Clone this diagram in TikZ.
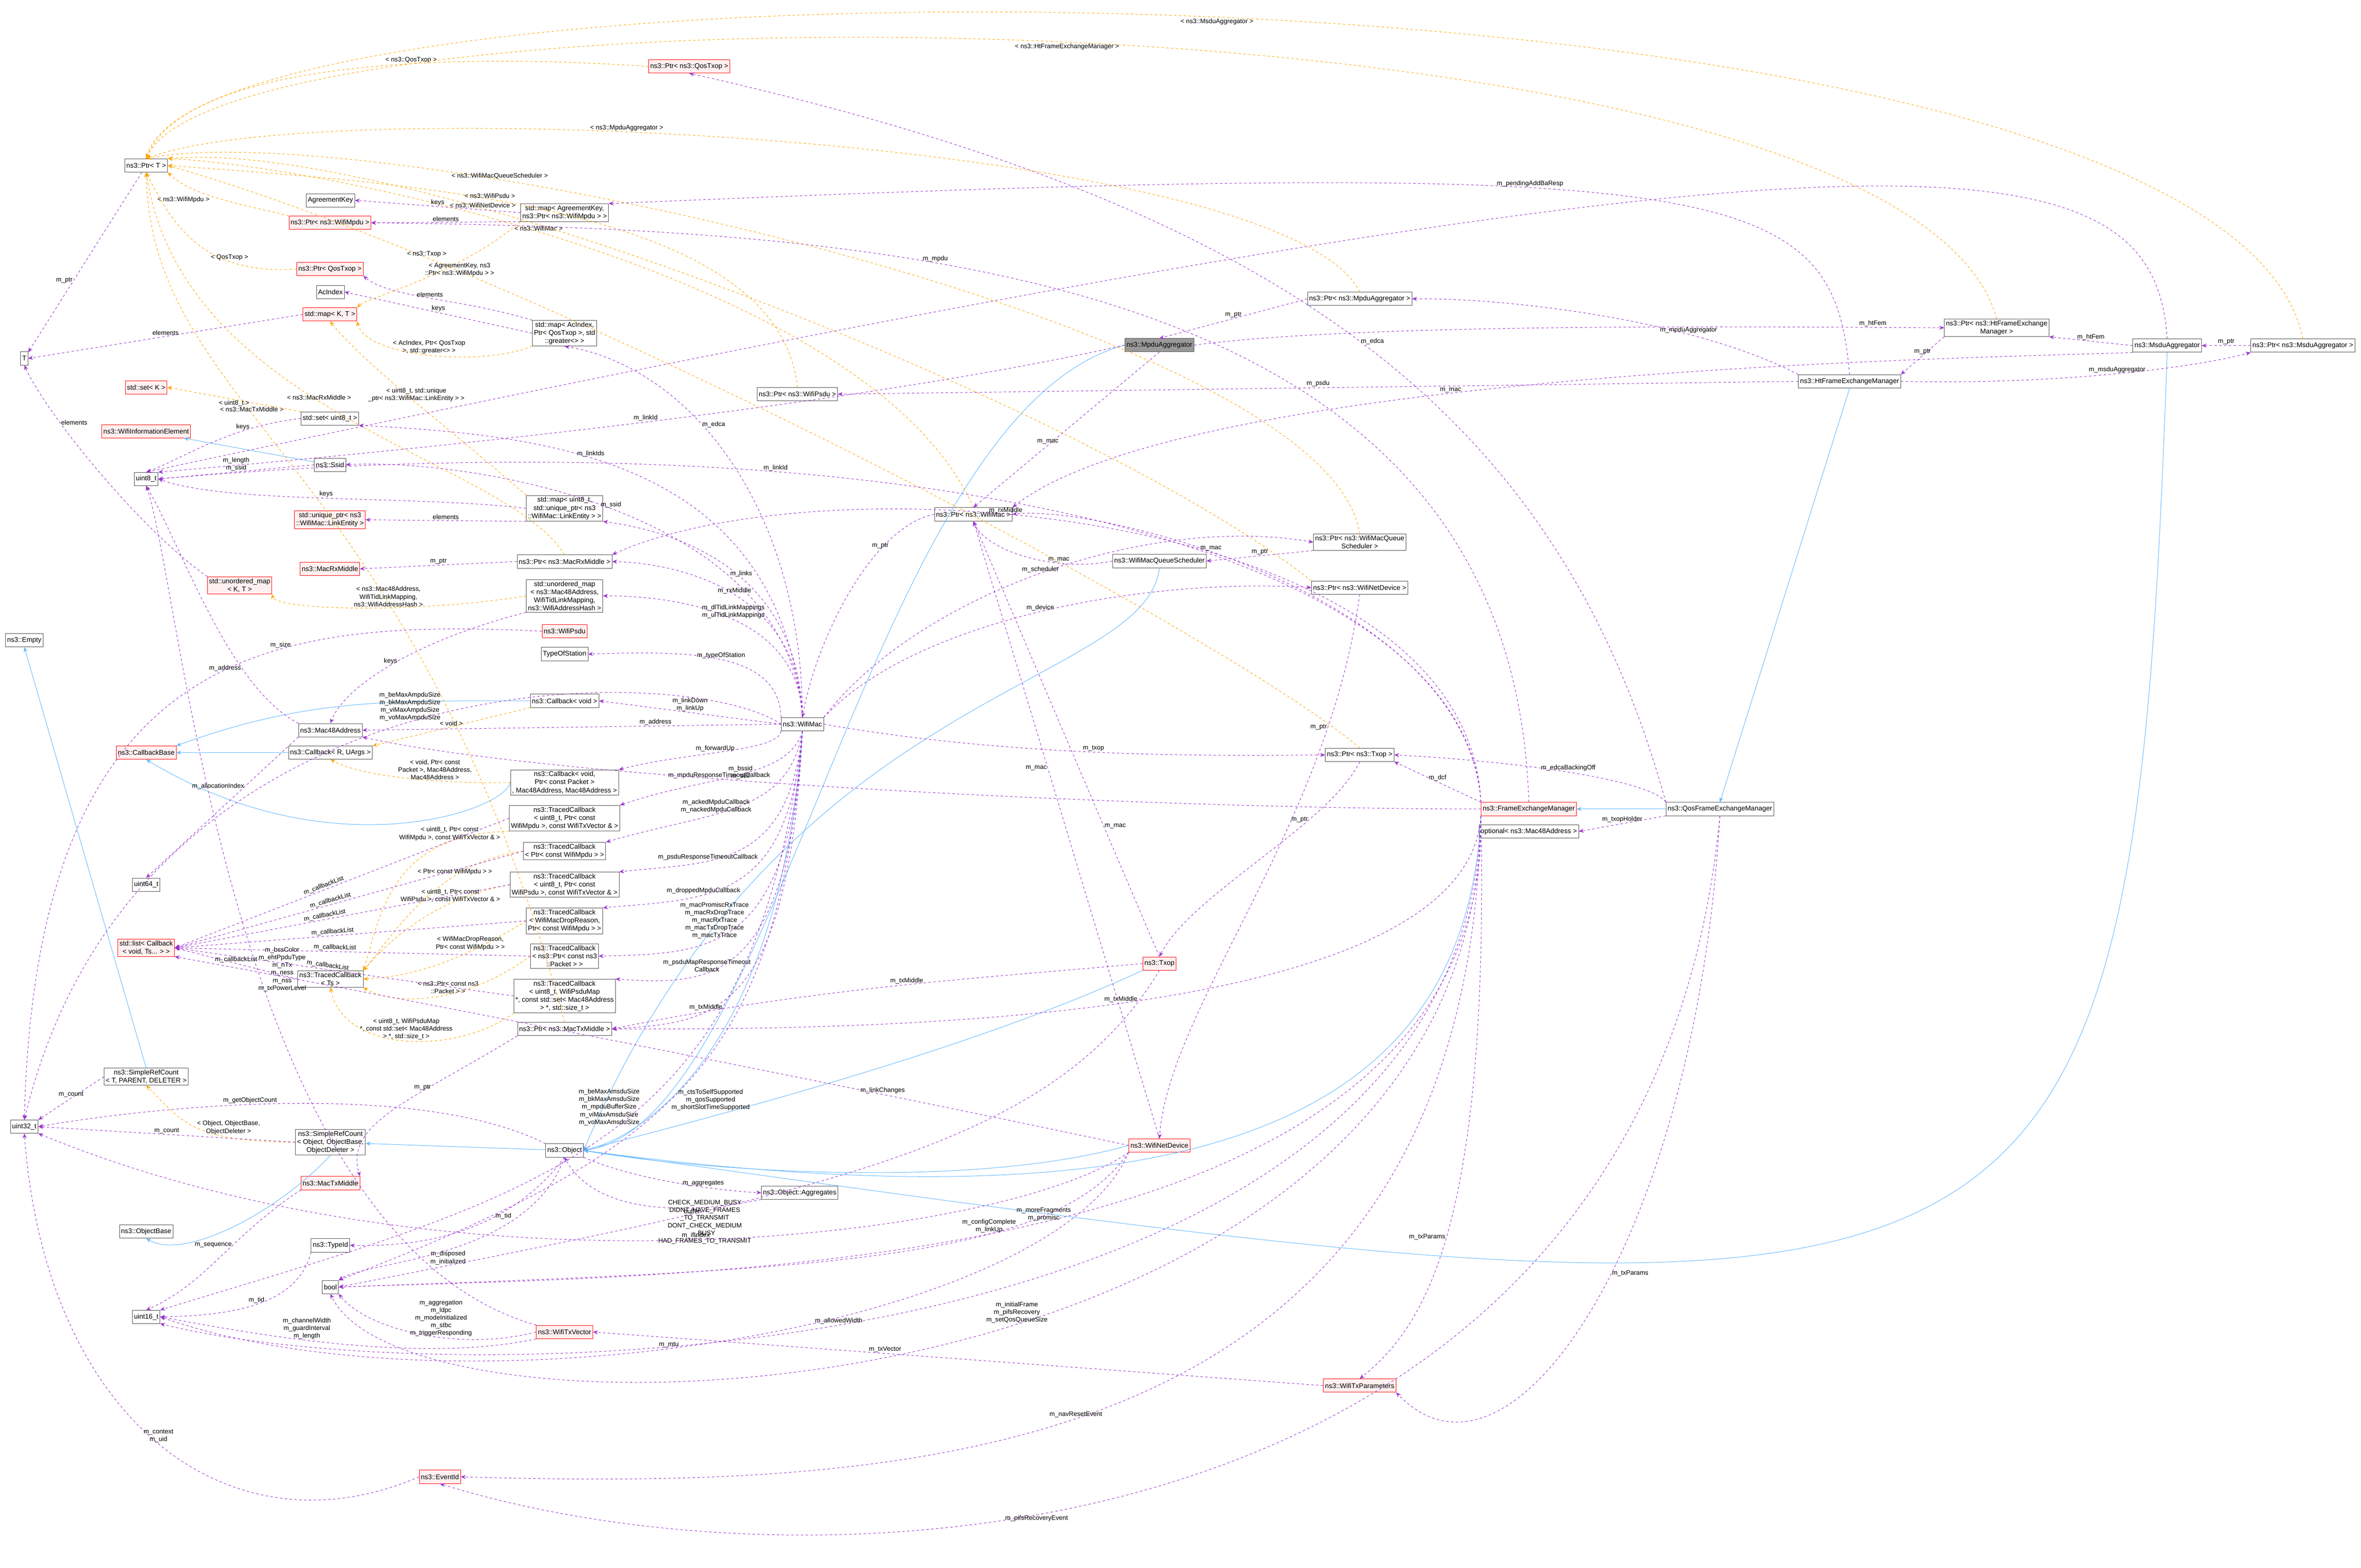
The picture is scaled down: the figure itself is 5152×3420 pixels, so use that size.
\documentclass[tikz,border=0pt]{standalone}
\usepackage{fontspec}
\setmainfont{Liberation Sans}
\usetikzlibrary{arrows.meta}
\definecolor{mp}{HTML}{9A32CD}
\definecolor{tor}{HTML}{FFA500}
\definecolor{ib}{HTML}{63B8FF}
\begin{document}
\begin{tikzpicture}[x=0.02cm,y=-0.02cm,
 font=\fontsize{8.5}{10}\selectfont,
 box/.style={draw=black!70,fill=white,inner sep=2pt,minimum height=0.58cm,align=center,line width=0.5pt},
 rbox/.style={box,draw=red,fill=red!6},
 gbox/.style={box,fill=black!40},
 mem/.style={draw=mp,dashed,line width=0.6pt,-{Stealth[length=6pt,width=5pt]}},
 tmpl/.style={draw=tor,dashed,line width=0.6pt,-{Stealth[length=6pt,width=5pt]}},
 inh/.style={draw=ib,line width=0.6pt,-{Stealth[length=6pt,width=5pt]}},
 lab/.style={align=center,inner sep=1pt,font=\fontsize{8}{9.5}\selectfont}]
\useasboundingbox (0,0) rectangle (5152,3420);
% ---------- nodes ----------
\node[box] (ptrT) at (319,361) {ns3::Ptr< T >};
\node[box] (T) at (53,782) {T};
\node[rbox] (pQosTxopNs) at (1504,145) {ns3::Ptr< ns3::QosTxop >};
\node[box] (agKey) at (721,437) {AgreementKey};
\node[rbox] (pMpdu) at (720,486) {ns3::Ptr< ns3::WifiMpdu >};
\node[box] (mapAg) at (1232,464) {std::map< AgreementKey,\\ ns3::Ptr< ns3::WifiMpdu > >};
\node[rbox] (pQosTxop) at (720,587) {ns3::Ptr< QosTxop >};
\node[box] (acIdx) at (721,637) {AcIndex};
\node[rbox] (mapKT) at (720,686) {std::map< K, T >};
\node[box] (mapAc) at (1232,727) {std::map< AcIndex,\\ Ptr< QosTxop >, std\\ ::greater<> >};
\node[rbox] (setK) at (319,845) {std::set< K >};
\node[box] (setU8) at (720,913) {std::set< uint8\_t >};
\node[rbox] (wie) at (319,941) {ns3::WifiInformationElement};
\node[box] (ssid) at (720,1014) {ns3::Ssid};
\node[box] (u8) at (319,1045) {uint8\_t};
\node[rbox] (uniq) at (720,1134) {std::unique\_ptr< ns3\\ ::WifiMac::LinkEntity >};
\node[box] (mapLink) at (1232,1109) {std::map< uint8\_t,\\ std::unique\_ptr< ns3\\ ::WifiMac::LinkEntity > >};
\node[rbox] (rxm) at (720,1241) {ns3::MacRxMiddle};
\node[box] (pRxm) at (1232,1225) {ns3::Ptr< ns3::MacRxMiddle >};
\node[rbox] (umapKT) at (523,1277) {std::unordered\_map\\ < K, T >};
\node[box] (umapMac) at (1232,1300) {std::unordered\_map\\ < ns3::Mac48Address,\\ WifiTidLinkMapping,\\ ns3::WifiAddressHash >};
\node[box] (pPsdu) at (1740,860) {ns3::Ptr< ns3::WifiPsdu >};
\node[box] (empty) at (53,1397) {ns3::Empty};
\node[rbox] (psdu) at (1232,1377) {ns3::WifiPsdu};
\node[box] (tos) at (1232,1427) {TypeOfStation};
\node[box] (cbVoid) at (1232,1529) {ns3::Callback< void >};
\node[box] (mac48) at (721,1593) {ns3::Mac48Address};
\node[box] (wmac) at (1751,1580) {ns3::WifiMac};
\node[rbox] (cbBase) at (319,1642) {ns3::CallbackBase};
\node[box] (cbR) at (721,1642) {ns3::Callback< R, UArgs >};
\node[box] (cbFwd) at (1232,1707) {ns3::Callback< void,\\ Ptr< const Packet >\\ , Mac48Address, Mac48Address >};
\node[box] (tc1) at (1232,1785) {ns3::TracedCallback\\ < uint8\_t, Ptr< const\\ WifiMpdu >, const WifiTxVector \& >};
\node[box] (tc2) at (1232,1857) {ns3::TracedCallback\\ < Ptr< const WifiMpdu > >};
\node[box] (u64) at (319,1930) {uint64\_t};
\node[box] (tc3) at (1232,1930) {ns3::TracedCallback\\ < uint8\_t, Ptr< const\\ WifiPsdu >, const WifiTxVector \& >};
\node[box] (tc4) at (1232,2009) {ns3::TracedCallback\\ < WifiMacDropReason,\\ Ptr< const WifiMpdu > >};
\node[rbox] (stdlist) at (319,2068) {std::list< Callback\\ < void, Ts... > >};
\node[box] (tc5) at (1232,2086) {ns3::TracedCallback\\ < ns3::Ptr< const ns3\\ ::Packet > >};
\node[box] (tcTs) at (721,2136) {ns3::TracedCallback\\ < Ts >};
\node[box] (tc6) at (1232,2173) {ns3::TracedCallback\\ < uint8\_t, WifiPsduMap\\ *, const std::set< Mac48Address\\ > *, std::size\_t >};
\node[box] (pTxm) at (1232,2245) {ns3::Ptr< ns3::MacTxMiddle >};
\node[box] (src1) at (319,2349) {ns3::SimpleRefCount\\ < T, PARENT, DELETER >};
\node[box] (u32) at (53,2458) {uint32\_t};
\node[box] (src2) at (721,2492) {ns3::SimpleRefCount\\ < Object, ObjectBase,\\ ObjectDeleter >};
\node[box] (obj) at (1232,2510) {ns3::Object};
\node[rbox] (txm) at (721,2581) {ns3::MacTxMiddle};
\node[box] (objBase) at (319,2687) {ns3::ObjectBase};
\node[box] (agg) at (1745,2602) {ns3::Object::Aggregates};
\node[box] (typeId) at (721,2717) {ns3::TypeId};
\node[box] (bool) at (721,2808) {bool};
\node[box] (u16) at (319,2873) {uint16\_t};
\node[rbox] (txvec) at (1232,2906) {ns3::WifiTxVector};
\node[rbox] (evid) at (960,3222) {ns3::EventId};
\node[box] (pMpduAgg) at (2967,652) {ns3::Ptr< ns3::MpduAggregator >};
\node[gbox] (mpduAgg) at (2530,753) {ns3::MpduAggregator};
\node[box] (pWMac) at (2124,1122) {ns3::Ptr< ns3::WifiMac >};
\node[box] (pSched) at (2967,1183) {ns3::Ptr< ns3::WifiMacQueue\\ Scheduler >};
\node[box] (sched) at (2530,1224) {ns3::WifiMacQueueScheduler};
\node[box] (pDev) at (2967,1282) {ns3::Ptr< ns3::WifiNetDevice >};
\node[box] (pHtFem) at (4357,715) {ns3::Ptr< ns3::HtFrameExchange\\ Manager >};
\node[box] (msduAgg) at (4729,754) {ns3::MsduAggregator};
\node[box] (pMsdu) at (5025,754) {ns3::Ptr< ns3::MsduAggregator >};
\node[box] (htFem) at (4036,832) {ns3::HtFrameExchangeManager};
\node[box] (pTxop) at (2967,1647) {ns3::Ptr< ns3::Txop >};
\node[rbox] (fem) at (3336,1765) {ns3::FrameExchangeManager};
\node[box] (opt) at (3336,1814) {optional< ns3::Mac48Address >};
\node[rbox] (txop) at (2530,2102) {ns3::Txop};
\node[rbox] (dev) at (2530,2499) {ns3::WifiNetDevice};
\node[box] (qosFem) at (3753,1765) {ns3::QosFrameExchangeManager};
\node[rbox] (txParams) at (2967,3023) {ns3::WifiTxParameters};
% ---------- inheritance ----------
\draw[inh] (ssid) -- (wie);
\draw[inh] (cbVoid.west) to[out=180,in=20] (cbBase.north east);
\draw[inh] (cbR) -- (cbBase);
\draw[inh] (cbFwd.west) .. controls (1100,1770) and (720,1900) .. (cbBase.south);
\draw[inh] (src1.north) -- (empty.south);
\draw[inh] (src2.south) .. controls (600,2650) and (400,2750) .. (objBase.south);
\draw[inh] (obj) -- (src2);
\draw[inh] (mpduAgg.west) .. controls (1900,900) and (1700,2450) .. (obj.east);
\draw[inh] (wmac.south) .. controls (1700,2300) and (1400,2480) .. (obj.east);
\draw[inh] (sched.south) .. controls (2500,1500) and (1700,1500) .. (obj.east);
\draw[inh] (txop.south west) .. controls (2100,2300) and (1500,2450) .. (obj.east);
\draw[inh] (dev.west) .. controls (2100,2600) and (1500,2550) .. (obj.east);
\draw[inh] (fem.south west) .. controls (3200,2400) and (2700,2700) .. (obj.east);
\draw[inh] (msduAgg.south) .. controls (4650,3000) and (4500,2960) .. (obj.east);
\draw[inh] (htFem.south) -- (qosFem.north);
\draw[inh] (qosFem.west) -- (fem.east);
% ---------- template instances ----------
\draw[tmpl] (pQosTxopNs.west) .. controls (900,110) and (400,150) .. node[lab,pos=0.35,above]{< ns3::QosTxop >} (ptrT.north);
\draw[tmpl] (pMpdu.north west) .. controls (550,450) and (420,430) .. node[lab,pos=0.6,below left]{< ns3::WifiMpdu >} (ptrT.south east);
\draw[tmpl] (pQosTxop.west) .. controls (450,600) and (380,500) .. node[lab,pos=0.3,above]{< QosTxop >} (ptrT.south);
\draw[tmpl] (pRxm.north) .. controls (1100,1000) and (400,900) .. node[lab,pos=0.55,above]{< ns3::MacRxMiddle >} (ptrT.south);
\draw[tmpl] (pTxm.north) .. controls (900,1000) and (330,900) .. node[lab,pos=0.6,above]{< ns3::MacTxMiddle >} (ptrT.south);
\draw[tmpl] (pPsdu.north) .. controls (1700,450) and (900,400) .. node[lab,pos=0.6,above]{< ns3::WifiPsdu >} (ptrT.east);
\draw[tmpl] (pWMac.north) .. controls (1900,600) and (700,360) .. node[lab,pos=0.55,above]{< ns3::WifiMac >} (ptrT.north east);
\draw[tmpl] (pMpduAgg.north) .. controls (2800,300) and (700,200) .. node[lab,pos=0.6,above]{< ns3::MpduAggregator >} (ptrT.north);
\draw[tmpl] (pSched.north) .. controls (2900,700) and (800,250) .. node[lab,pos=0.7,above]{< ns3::WifiMacQueueScheduler >} (ptrT.north);
\draw[tmpl] (pDev.north west) .. controls (2400,900) and (900,300) .. node[lab,pos=0.7,above]{< ns3::WifiNetDevice >} (ptrT.north east);
\draw[tmpl] (pTxop.north) .. controls (2700,1400) and (1200,600) .. node[lab,pos=0.8,above]{< ns3::Txop >} (ptrT.east);
\draw[tmpl] (pHtFem.north) .. controls (4150,-50) and (500,-50) .. node[lab,pos=0.5,below]{< ns3::HtFrameExchangeManager >} (ptrT.north);
\draw[tmpl] (pMsdu.north) .. controls (4850,-130) and (450,-130) .. node[lab,pos=0.5,below]{< ns3::MsduAggregator >} (ptrT.north);
\draw[tmpl] (mapAg.south west) .. controls (1000,600) and (800,650) .. node[lab,pos=0.3,below]{< AgreementKey, ns3\\ ::Ptr< ns3::WifiMpdu > >} (mapKT.north east);
\draw[tmpl] (mapAc.south west) .. controls (1050,800) and (800,780) .. node[lab,pos=0.5,above]{< AcIndex, Ptr< QosTxop\\ >, std::greater<> >} (mapKT.south east);
\draw[tmpl] (mapLink.north west) .. controls (1000,950) and (800,800) .. node[lab,pos=0.5,above]{< uint8\_t, std::unique\\ \_ptr< ns3::WifiMac::LinkEntity > >} (mapKT.south);
\draw[tmpl] (setU8.north west) -- node[lab,below,pos=0.5]{< uint8\_t >} (setK.east);
\draw[tmpl] (umapMac.west) .. controls (900,1340) and (600,1330) .. node[lab,pos=0.4,above]{< ns3::Mac48Address,\\ WifiTidLinkMapping,\\ ns3::WifiAddressHash >} (umapKT.south east);
\draw[tmpl] (cbVoid.south west) -- node[lab,above]{< void >} (cbR.north east);
\draw[tmpl] (cbFwd.west) .. controls (1000,1710) and (800,1700) .. node[lab,pos=0.4,above]{< void, Ptr< const\\ Packet >, Mac48Address,\\ Mac48Address >} (cbR.south);
\draw[tmpl] (tc1.south west) .. controls (850,1820) and (830,2000) .. node[lab,pos=0.2,above]{< uint8\_t, Ptr< const\\ WifiMpdu >, const WifiTxVector \& >} (tcTs.north east);
\draw[tmpl] (tc2.west) .. controls (950,1880) and (850,2050) .. node[lab,pos=0.3,above]{< Ptr< const WifiMpdu > >} (tcTs.north east);
\draw[tmpl] (tc3.west) .. controls (950,1960) and (850,2050) .. node[lab,pos=0.3,above]{< uint8\_t, Ptr< const\\ WifiPsdu >, const WifiTxVector \& >} (tcTs.north east);
\draw[tmpl] (tc4.west) .. controls (1000,2100) and (900,2130) .. node[lab,pos=0.3,above]{< WifiMacDropReason,\\ Ptr< const WifiMpdu > >} (tcTs.east);
\draw[tmpl] (tc5.west) .. controls (1000,2200) and (850,2190) .. node[lab,pos=0.4,above]{< ns3::Ptr< const ns3\\ ::Packet > >} (tcTs.south east);
\draw[tmpl] (tc6.south west) .. controls (1000,2300) and (750,2300) .. node[lab,pos=0.5,above]{< uint8\_t, WifiPsduMap\\ *, const std::set< Mac48Address\\ > *, std::size\_t >} (tcTs.south);
\draw[tmpl] (src2.west) .. controls (420,2490) and (400,2450) .. node[lab,pos=0.5,right]{< Object, ObjectBase,\\ ObjectDeleter >} (src1.south);
% ---------- members ----------
\draw[mem] (ptrT) -- node[lab,pos=0.6,left]{m\_ptr} (T);
\draw[mem] (mapKT.west) -- node[lab,above]{elements} (T.east);
\draw[mem] (umapKT.north west) .. controls (300,1150) and (100,900) .. node[lab,pos=0.7,right]{elements} (T.south);
\draw[mem] (mapAg.west) -- node[lab,above]{keys} (agKey.east);
\draw[mem] (mapAg.south west) -- node[lab,above]{elements} (pMpdu.east);
\draw[mem] (mapAc.west) -- node[lab,above]{keys} (acIdx.east);
\draw[mem] (mapAc.north west) .. controls (1000,650) and (850,650) .. node[lab,above]{elements} (pQosTxop.south east);
\draw[mem] (setU8.west) .. controls (500,930) and (400,1000) .. node[lab,above,pos=0.3]{keys} (u8.north);
\draw[mem] (ssid.west) -- node[lab,above]{m\_length\\ m\_ssid} (u8.east);
\draw[mem] (mapLink.west) .. controls (900,1080) and (500,1100) .. node[lab,pos=0.5,above]{keys} (u8.east);
\draw[mem] (mapLink.south west) -- node[lab,above]{elements} (uniq.east);
\draw[mem] (pRxm.west) -- node[lab,above]{m\_ptr} (rxm.east);
\draw[mem] (umapMac.south west) .. controls (900,1400) and (750,1500) .. node[lab,pos=0.5,above]{keys} (mac48.north);
\draw[mem] (mac48.north west) .. controls (500,1500) and (400,1200) .. node[lab,pos=0.3,left]{m\_address} (u8.south);
\draw[mem] (mac48.south west) -- node[lab,pos=0.35,left]{m\_allocationIndex} (u64.north);
\draw[mem] (psdu.west) .. controls (600,1350) and (80,1400) .. node[lab,pos=0.35,above]{m\_size} (u32.north);
\draw[mem] (txvec.north west) .. controls (500,2700) and (400,1300) .. node[lab,pos=0.45,right]{m\_bssColor\\ m\_ehtPpduType\\ m\_nTx\\ m\_ness\\ m\_nss\\ m\_txPowerLevel} (u8.south);
\draw[mem] (tcTs.west) -- node[lab,above]{m\_callbackList} (stdlist.east);
\foreach \n in {tc1,tc2,tc3,tc4,tc5,tc6} { \draw[mem] (\n.west) -- node[lab,pos=0.55,above,sloped]{m\_callbackList} (stdlist.east); }
\draw[mem] (src1.west) -- node[lab,above]{m\_count} (u32.north east);
\draw[mem] (src2.west) -- node[lab,above]{m\_count} (u32.east);
\draw[mem] (obj.north west) .. controls (900,2350) and (300,2420) .. node[lab,pos=0.55,above]{m\_getObjectCount} (u32.east);
\draw[mem] (pTxm.south west) .. controls (900,2400) and (750,2450) .. node[lab,pos=0.35,above]{m\_ptr} (txm.north east);
\draw[mem] (obj.south) .. controls (1100,2700) and (900,2720) .. node[lab,pos=0.3,below]{m\_tid} (typeId.east);
\draw[mem] (obj.south) .. controls (1150,2750) and (800,2750) .. node[lab,pos=0.5,below]{m\_disposed\\ m\_initialized} (bool.north east);
\draw[mem] (obj.south east) .. controls (1400,2580) and (1600,2600) .. node[lab,pos=0.6,above]{m\_aggregates} (agg.west);
\draw[mem] (agg.south west) .. controls (1500,2650) and (1300,2650) .. node[lab,pos=0.3,below]{buffer} (obj.south);
\draw[mem] (txm.south west) .. controls (500,2700) and (450,2800) .. node[lab,pos=0.4,left]{m\_sequence} (u16.north);
\draw[mem] (typeId.south west) .. controls (650,2850) and (500,2870) .. node[lab,pos=0.5,above]{m\_tid} (u16.east);
\draw[mem] (txvec.west) .. controls (1000,2950) and (800,2900) .. node[lab,pos=0.4,above]{m\_aggregation\\ m\_ldpc\\ m\_modeInitialized\\ m\_stbc\\ m\_triggerResponding} (bool.south east);
\draw[mem] (txvec.south west) .. controls (900,2980) and (500,2900) .. node[lab,pos=0.55,above]{m\_channelWidth\\ m\_guardInterval\\ m\_length} (u16.east);
\draw[mem] (evid.west) .. controls (500,3400) and (100,3100) .. node[lab,pos=0.5,above]{m\_context\\ m\_uid} (u32.south);
% WifiMac members
\draw[mem] (wmac.north) .. controls (1750,1100) and (1500,800) .. node[lab,pos=0.6,right]{m\_edca} (mapAc.south);
\draw[mem] (wmac.north) .. controls (1700,1000) and (1200,950) .. node[lab,pos=0.6,above]{m\_linkIds} (setU8.south east);
\draw[mem] (wmac.north) .. controls (1720,1100) and (1000,1000) .. node[lab,pos=0.5,above]{m\_ssid} (ssid.east);
\draw[mem] (wmac.north) .. controls (1740,1200) and (1400,1150) .. node[lab,pos=0.4,above]{m\_links} (mapLink.south east);
\draw[mem] (wmac.north) .. controls (1745,1300) and (1500,1230) .. node[lab,pos=0.5,above]{m\_rxMiddle} (pRxm.east);
\draw[mem] (wmac.north) .. controls (1745,1350) and (1500,1300) .. node[lab,pos=0.5,above]{m\_dlTidLinkMappings\\ m\_ulTidLinkMappings} (umapMac.east);
\draw[mem] (wmac.north west) .. controls (1700,1420) and (1500,1420) .. node[lab,pos=0.5,above]{m\_typeOfStation} (tos.east);
\draw[mem] (wmac.west) -- node[lab,above]{m\_linkDown\\ m\_linkUp} (cbVoid.east);
\draw[mem] (wmac.west) -- node[lab,pos=0.3,above]{m\_address} (mac48.east);
\draw[mem] (wmac.south west) .. controls (1700,1640) and (1500,1640) .. node[lab,pos=0.55,above]{m\_forwardUp} (cbFwd.north east);
\draw[mem] (wmac.south) .. controls (1720,1700) and (1550,1690) .. node[lab,pos=0.6,above]{m\_mpduResponseTimeoutCallback} (tc1.north east);
\draw[mem] (wmac.south) .. controls (1720,1780) and (1550,1770) .. node[lab,pos=0.6,above]{m\_ackedMpduCallback\\ m\_nackedMpduCallback} (tc2.north east);
\draw[mem] (wmac.south) .. controls (1720,1900) and (1550,1880) .. node[lab,pos=0.65,above]{m\_psduResponseTimeoutCallback} (tc3.north east);
\draw[mem] (wmac.south) .. controls (1720,1970) and (1550,1960) .. node[lab,pos=0.65,above]{m\_droppedMpduCallback} (tc4.north east);
\draw[mem] (wmac.south) .. controls (1720,2080) and (1550,2080) .. node[lab,pos=0.6,above]{m\_macPromiscRxTrace\\ m\_macRxDropTrace\\ m\_macRxTrace\\ m\_macTxDropTrace\\ m\_macTxTrace} (tc5.east);
\draw[mem] (wmac.south) .. controls (1720,2150) and (1550,2150) .. node[lab,pos=0.65,above]{m\_psduMapResponseTimeout\\ Callback} (tc6.north east);
\draw[mem] (wmac.south) .. controls (1720,2230) and (1550,2230) .. node[lab,pos=0.65,above]{m\_txMiddle} (pTxm.east);
\draw[mem] (wmac.east) .. controls (2200,1650) and (2600,1650) .. node[lab,pos=0.5,above]{m\_txop} (pTxop.west);
\draw[mem] (wmac.north east) .. controls (2000,1300) and (2500,1120) .. node[lab,pos=0.5,above]{m\_scheduler} (pSched.west);
\draw[mem] (wmac.north east) .. controls (2000,1350) and (2500,1260) .. node[lab,pos=0.5,above]{m\_device} (pDev.west);
\draw[mem] (wmac.south) .. controls (1700,2300) and (1500,2500) .. node[lab,pos=0.55,right]{m\_ctsToSelfSupported\\ m\_qosSupported\\ m\_shortSlotTimeSupported} (bool.north east);
\draw[mem] (wmac.south) .. controls (1650,2500) and (1200,2600) .. node[lab,pos=0.45,left]{m\_beMaxAmsduSize\\ m\_bkMaxAmsduSize\\ m\_mpduBufferSize\\ m\_viMaxAmsduSize\\ m\_voMaxAmsduSize} (u16.north east);
\draw[mem] (wmac.west) .. controls (1500,1440) and (300,1420) .. node[lab,pos=0.5,above]{m\_beMaxAmpduSize\\ m\_bkMaxAmpduSize\\ m\_viMaxAmpduSize\\ m\_voMaxAmpduSize} (u32.north);
% aggregators, HT FEM
\draw[mem] (pMpduAgg.west) -- node[lab,above]{m\_ptr} (mpduAgg.north);
\draw[mem] (mpduAgg.south) -- node[lab,above,pos=0.6]{m\_mac} (pWMac.north);
\draw[mem] (mpduAgg.west) .. controls (1800,900) and (700,1000) .. node[lab,pos=0.45,above]{m\_linkId} (u8.north east);
\draw[mem] (mpduAgg.east) .. controls (3000,700) and (4000,715) .. node[lab,pos=0.85,above]{m\_htFem} (pHtFem.west);
\draw[mem] (pWMac.west) .. controls (1900,1150) and (1780,1400) .. node[lab,pos=0.3,above]{m\_ptr} (wmac.north);
\draw[mem] (pSched.south west) -- node[lab,above]{m\_ptr} (sched.east);
\draw[mem] (sched.west) .. controls (2300,1250) and (2150,1200) .. node[lab,pos=0.3,above]{m\_mac} (pWMac.south);
\draw[mem] (pDev.south) .. controls (2900,1800) and (2550,2200) .. node[lab,pos=0.2,left]{m\_ptr} (dev.north);
\draw[mem] (pTxop.south) .. controls (2900,1800) and (2600,1950) .. node[lab,pos=0.3,left]{m\_ptr} (txop.north);
\draw[mem] (htFem.north west) .. controls (3700,700) and (3300,650) .. node[lab,pos=0.3,above]{m\_mpduAggregator} (pMpduAgg.east);
\draw[mem] (htFem.east) .. controls (4500,840) and (4800,800) .. node[lab,pos=0.5,above]{m\_msduAggregator} (pMsdu.south west);
\draw[mem] (htFem.west) -- node[lab,above,pos=0.5]{m\_psdu} (pPsdu.east);
\draw[mem] (htFem.north) .. controls (4000,400) and (3800,338) .. node[lab,pos=0.6,above]{m\_pendingAddBaResp} (mapAg.north east);
\draw[mem] (pHtFem.south west) -- node[lab,above]{m\_ptr} (htFem.north east);
\draw[mem] (msduAgg.west) -- node[lab,above]{m\_htFem} (pHtFem.south east);
\draw[mem] (msduAgg.south west) .. controls (4400,780) and (2600,800) .. node[lab,pos=0.6,above]{m\_mac} (pWMac.north east);
\draw[mem] (msduAgg.north) .. controls (4700,300) and (4200,200) .. (u8.north);
\draw[mem] (pMsdu.west) -- node[lab,above]{m\_ptr} (msduAgg.east);
% QoS FEM
\draw[mem] (qosFem.north west) .. controls (3400,900) and (2800,450) .. node[lab,pos=0.5,right]{m\_edca} (pQosTxopNs.south);
\draw[mem] (qosFem.north west) .. controls (3600,1700) and (3300,1660) .. node[lab,pos=0.5,above]{m\_edcaBackingOff} (pTxop.east);
\draw[mem] (qosFem.south west) -- node[lab,above]{m\_txopHolder} (opt.east);
\draw[mem] (qosFem.south) .. controls (3600,3400) and (1800,3500) .. node[lab,pos=0.6,below]{m\_pifsRecoveryEvent} (evid.south);
\draw[mem] (qosFem.south) .. controls (3700,2700) and (3300,3300) .. node[lab,pos=0.45,right]{m\_txParams} (txParams.south east);
% FEM
\draw[mem] (fem.north west) -- node[lab,above]{m\_dcf} (pTxop.south east);
\draw[mem] (fem.west) .. controls (2500,1765) and (1200,1700) .. node[lab,pos=0.6,above]{m\_bssid\\ m\_self} (mac48.south east);
\draw[mem] (fem.north west) .. controls (3200,1300) and (2400,1100) .. node[lab,pos=0.6,above]{m\_mac} (pWMac.east);
\draw[mem] (fem.south west) .. controls (3200,2250) and (1800,2245) .. node[lab,pos=0.5,above]{m\_txMiddle} (pTxm.east);
\draw[mem] (fem.north west) .. controls (3200,1100) and (1800,1000) .. node[lab,pos=0.6,above]{m\_rxMiddle} (pRxm.north east);
\draw[mem] (fem.north) .. controls (3300,600) and (2000,500) .. node[lab,pos=0.65,above]{m\_mpdu} (pMpdu.east);
\draw[mem] (fem.south west) .. controls (3250,2800) and (1500,2780) .. node[lab,pos=0.5,above]{m\_moreFragments\\ m\_promisc} (bool.east);
\draw[mem] (fem.south west) .. controls (3250,2700) and (3100,2900) .. node[lab,pos=0.5,left]{m\_txParams} (txParams.north);
\draw[mem] (fem.south west) .. controls (3200,3000) and (1000,3050) .. node[lab,pos=0.55,above]{m\_allowedWidth} (u16.south east);
\draw[mem] (fem.south west) .. controls (3220,3100) and (900,3200) .. node[lab,pos=0.45,above]{m\_initialFrame\\ m\_pifsRecovery\\ m\_setQosQueueSize} (bool.south);
\draw[mem] (fem.south west) .. controls (3200,3200) and (2000,3250) .. node[lab,pos=0.55,above]{m\_navResetEvent} (evid.east);
\draw[mem] (fem.north west) .. controls (3200,1200) and (2000,900) .. node[lab,pos=0.7,above]{m\_linkId} (u8.east);
% Txop, device, tx params
\draw[mem] (txop.north) -- node[lab,right,pos=0.3]{m\_mac} (pWMac.south);
\draw[mem] (txop.west) .. controls (2200,2130) and (1800,2150) .. node[lab,pos=0.5,above]{m\_txMiddle} (pTxm.east);
\draw[mem] (txop.south) .. controls (2300,2500) and (1800,2600) .. node[lab,pos=0.75,right]{CHECK\_MEDIUM\_BUSY\\ DIDNT\_HAVE\_FRAMES\\ \_TO\_TRANSMIT\\ DONT\_CHECK\_MEDIUM\\ \_BUSY\\ HAD\_FRAMES\_TO\_TRANSMIT} (bool.east);
\draw[mem] (dev.north) -- node[lab,left,pos=0.6]{m\_mac} (pWMac.south);
\draw[mem] (dev.south west) .. controls (2300,2900) and (1000,3100) .. node[lab,pos=0.55,above]{m\_mtu} (u16.east);
\draw[mem] (dev.south west) .. controls (2200,2700) and (1000,2850) .. node[lab,pos=0.5,above]{m\_ifIndex} (u32.south east);
\draw[mem] (dev.south west) .. controls (2300,2750) and (1800,2770) .. node[lab,pos=0.35,above]{m\_configComplete\\ m\_linkUp} (bool.east);
\draw[mem] (dev.west) .. controls (2000,2400) and (1000,2200) .. node[lab,pos=0.3,above]{m\_linkChanges} (stdlist.south east);
\draw[mem] (txParams.west) -- node[lab,above,pos=0.6]{m\_txVector} (txvec.east);
\end{tikzpicture}
\end{document}
